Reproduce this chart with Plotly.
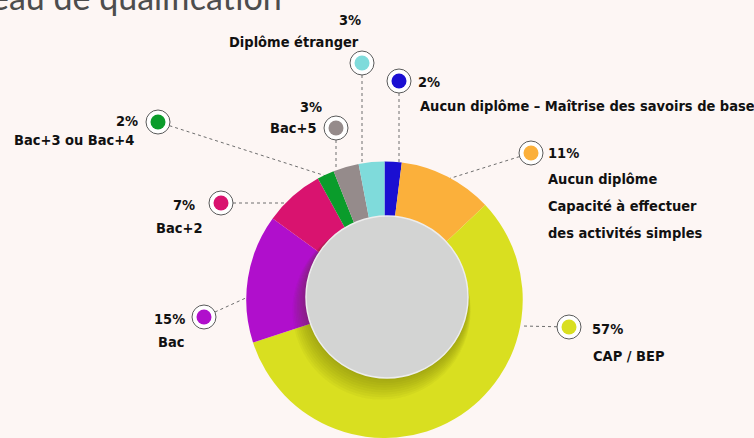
import plotly.graph_objects as go

# Données : répartition par niveau de qualification (sens horaire depuis midi)
categories = [
    "Aucun diplôme – Maîtrise des savoirs de base",
    "Aucun diplôme\nCapacité à effectuer\ndes activités simples",
    "CAP / BEP",
    "Bac",
    "Bac+2",
    "Bac+3 ou Bac+4",
    "Bac+5",
    "Diplôme étranger",
]
shares = [2, 11, 57, 15, 7, 2, 3, 3]
colors = ["#1a0fd2", "#fbb03b", "#d9df20", "#b00fcc", "#d9136f", "#0a9c2b", "#958b8b", "#7fdbdb"]

W, H = 754, 438
BG = "#fdf6f4"
LABEL_FONT = "Liberation Sans Narrow, DejaVu Sans Condensed, Arial Narrow, sans-serif"
LABEL_SIZE = 14.5

# position des étiquettes (pixels) : pastille, fin du trait, pourcentage, nom, alignement, interligne
label_pos = [
    dict(dot=(399, 81), end=(399, 165), pct=(416, 82), name=(418, 106), side="left", gap=27),
    dict(dot=(531, 153), end=(448, 179), pct=(546, 153), name=(546, 179), side="left", gap=27),
    dict(dot=(569, 327), end=(522, 326), pct=(590, 329), name=(591, 356), side="left", gap=27),
    dict(dot=(204, 317), end=(248, 297), pct=(187, 319), name=(186, 342), side="right", gap=27),
    dict(dot=(221, 203), end=(288, 203), pct=(197, 205), name=(204, 228), side="right", gap=27),
    dict(dot=(158, 122), end=(326, 176), pct=(140, 121), name=(136, 140), side="right", gap=27),
    dict(dot=(336, 128), end=(336, 169), pct=(324, 107), name=(318, 128), side="right", gap=27),
    dict(dot=(362, 63), end=(362, 166), pct=(363, 20), name=(361, 42), side="right", gap=27),
]

fig = go.Figure()

# Anneau
fig.add_trace(go.Pie(
    labels=[c.replace("\n", " ") for c in categories],
    values=shares,
    marker=dict(colors=colors, line=dict(width=0)),
    sort=False,
    direction="clockwise",
    rotation=0,
    hole=0.5,
    textinfo="none",
    hoverinfo="label+percent",
    showlegend=False,
    domain=dict(x=[244 / W, 525 / W], y=[0, 1 - 161.5 / H]),
))

# Traits pointillés + pastilles
for pos, col in zip(label_pos, colors):
    (dx, dy), (ex, ey) = pos["dot"], pos["end"]
    fig.add_trace(go.Scatter(
        x=[dx, ex], y=[dy, ey], mode="lines",
        line=dict(color="#6e6e6e", width=1, dash="dot"),
        hoverinfo="skip", showlegend=False,
    ))
    fig.add_trace(go.Scatter(
        x=[dx], y=[dy], mode="markers",
        marker=dict(size=24, color="#ffffff", line=dict(color="#5a5a5a", width=1)),
        hoverinfo="skip", showlegend=False,
    ))
    fig.add_trace(go.Scatter(
        x=[dx], y=[dy], mode="markers",
        marker=dict(size=15, color=col, line=dict(width=0)),
        hoverinfo="skip", showlegend=False,
    ))

annotations = []
for pos, name, val in zip(label_pos, categories, shares):
    px, py = pos["pct"]
    annotations.append(dict(
        x=px, y=py, xref="x", yref="y", text=f"<b>{val}%</b>", showarrow=False,
        xanchor=pos["side"], yanchor="middle",
        font=dict(family=LABEL_FONT, size=LABEL_SIZE, color="#111111"),
    ))
    nx, ny = pos["name"]
    for i, line in enumerate(name.split("\n")):
        annotations.append(dict(
            x=nx, y=ny + i * pos["gap"], xref="x", yref="y", text=f"<b>{line}</b>",
            showarrow=False, xanchor=pos["side"], yanchor="middle",
            font=dict(family=LABEL_FONT, size=LABEL_SIZE, color="#111111"),
        ))

# Titre (coupé en haut dans l'original)
annotations.append(dict(
    x=284 / W, y=1 + 3 / H, xref="paper", yref="paper", text="Niveau de qualification",
    showarrow=False, xanchor="right", yanchor="middle",
    font=dict(family="Lato, Open Sans, sans-serif", size=34, color="#4d4d4d"),
))

# Disque central gris avec ombre portée
shapes = []
cx, cy, r = 387, 297, 81
for k in range(1, 10):
    rr = r + k * 0.9
    ox, oy = -k * 0.6, k * 1.5
    shapes.append(dict(
        type="circle", xref="x", yref="y", layer="above",
        x0=cx + ox - rr, x1=cx + ox + rr, y0=cy + oy - rr, y1=cy + oy + rr,
        fillcolor="rgba(60,60,0,0.045)", line=dict(width=0),
    ))
shapes.append(dict(
    type="circle", xref="x", yref="y", layer="above",
    x0=cx - r, x1=cx + r, y0=cy - r, y1=cy + r,
    fillcolor="#d3d4d3", line=dict(color="#ededed", width=1.5),
))

fig.update_layout(
    width=W, height=H,
    margin=dict(l=0, r=0, t=0, b=0),
    paper_bgcolor=BG, plot_bgcolor="rgba(0,0,0,0)",
    xaxis=dict(range=[0, W], visible=False, domain=[0, 1], fixedrange=True),
    yaxis=dict(range=[H, 0], visible=False, domain=[0, 1], fixedrange=True),
    annotations=annotations,
    shapes=shapes,
    showlegend=False,
)

fig.write_html(
    "out.html",
    config={"displayModeBar": False},
    post_script="document.body.style.margin='0';document.body.style.background='" + BG + "';",
)
